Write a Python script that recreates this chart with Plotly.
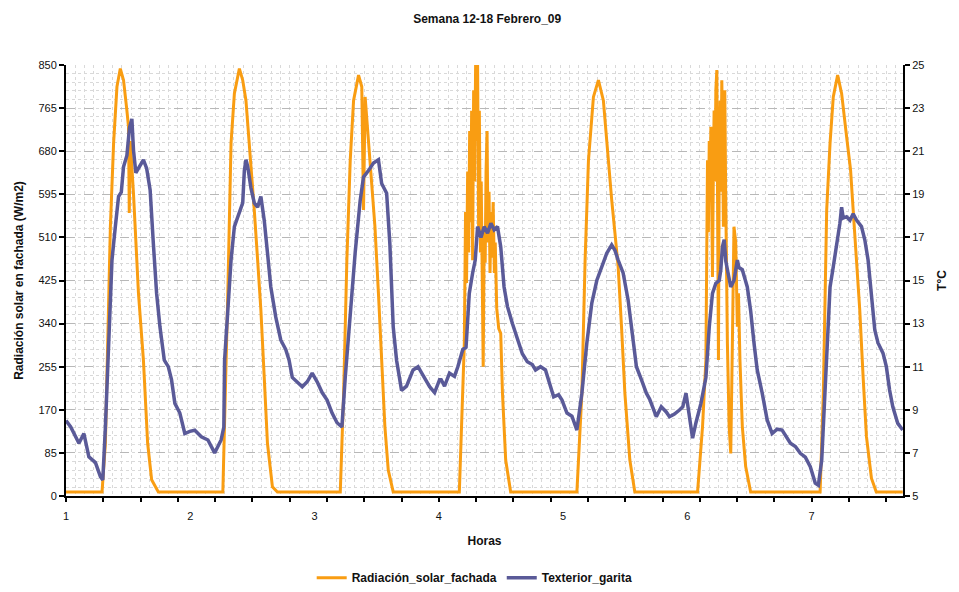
import plotly.graph_objects as go

# ---- data (x in days "Horas") ----
rad_x = [1.000, 1.290, 1.317, 1.338, 1.357, 1.383, 1.410, 1.437, 1.463, 1.490, 1.503, 1.509, 1.517, 1.543, 1.583, 1.623, 1.657, 1.689, 1.743,
         2.262, 2.276, 2.302, 2.328, 2.355, 2.395, 2.422, 2.448, 2.488, 2.515, 2.542, 2.568, 2.595, 2.621, 2.661, 2.701,
         3.207, 3.234, 3.260, 3.287, 3.314, 3.354, 3.380, 3.394, 3.407, 3.426, 3.460, 3.486, 3.514, 3.540, 3.566, 3.593, 3.633,
         4.165, 4.187, 4.205, 4.215, 4.223, 4.232, 4.240, 4.248, 4.256, 4.264, 4.272, 4.280, 4.288, 4.296, 4.304, 4.312, 4.320, 4.326,
         4.335, 4.341, 4.348, 4.357, 4.365, 4.373, 4.380, 4.388, 4.396, 4.404, 4.412, 4.420, 4.428, 4.437, 4.447, 4.454, 4.466, 4.482,
         4.498, 4.512, 4.538, 4.578,
         5.111, 5.151, 5.177, 5.204, 5.244, 5.284, 5.324, 5.351, 5.377, 5.391, 5.417, 5.443, 5.470, 5.497, 5.537, 5.577,
         6.082, 6.122, 6.149, 6.155, 6.162, 6.169, 6.176, 6.182, 6.189, 6.195, 6.202, 6.209, 6.215, 6.222, 6.229, 6.237, 6.243, 6.250,
         6.257, 6.264, 6.270, 6.277, 6.283, 6.290, 6.295, 6.301, 6.308, 6.314, 6.322, 6.336, 6.349, 6.362, 6.375, 6.389, 6.395, 6.402,
         6.411, 6.423, 6.442, 6.469, 6.509,
         7.068, 7.094, 7.108, 7.121, 7.148, 7.174, 7.209, 7.241, 7.281, 7.313, 7.334, 7.360, 7.387, 7.414, 7.441, 7.481, 7.520, 7.733]
rad_w = [8, 8, 104, 334, 531, 696, 807, 843, 820, 760, 728, 558, 700, 597, 400, 268, 104, 32, 8,
         8, 137, 400, 696, 794, 843, 820, 780, 660, 564, 465, 367, 235, 104, 18, 8,
         8, 203, 465, 662, 780, 830, 807, 564, 787, 728, 630, 531, 400, 268, 137, 51, 8,
         8, 150, 300, 560, 420, 640, 480, 720, 540, 760, 465, 800, 620, 850, 700, 850, 531, 760,
         480, 620, 380, 255, 520, 460, 640, 720, 500, 600, 440, 560, 470, 580, 440, 500, 370, 330,
         321, 203, 71, 8,
         8, 203, 465, 662, 787, 820, 780, 695, 630, 584, 519, 452, 334, 203, 71, 8,
         8, 137, 268, 560, 662, 520, 700, 580, 728, 600, 432, 640, 760, 620, 800, 840, 650, 268,
         700, 780, 600, 820, 700, 531, 700, 800, 600, 400, 301, 137, 84, 300, 531, 500, 420, 334,
         400, 268, 137, 58, 8,
         8, 203, 400, 564, 696, 787, 830, 794, 709, 643, 564, 465, 367, 235, 117, 35, 8, 8]

temp_x = [1.000, 1.038, 1.104, 1.144, 1.184, 1.237, 1.277, 1.296, 1.317, 1.338, 1.370, 1.397, 1.423, 1.445, 1.463, 1.490, 1.511, 1.530, 1.543, 1.562,
          1.583, 1.623, 1.649, 1.677, 1.703, 1.729, 1.756, 1.791, 1.823, 1.849, 1.876, 1.916, 1.956, 1.996, 2.036, 2.089, 2.142, 2.196, 2.222, 2.248,
          2.270, 2.276, 2.302, 2.328, 2.355, 2.395, 2.422, 2.435, 2.448, 2.462, 2.488, 2.515, 2.542, 2.568, 2.595, 2.621, 2.648, 2.688, 2.728, 2.768,
          2.795, 2.821, 2.861, 2.901, 2.941, 2.981, 3.021, 3.061, 3.101, 3.141, 3.181, 3.220, 3.247, 3.287, 3.327, 3.367, 3.394, 3.434, 3.474, 3.514,
          3.540, 3.580, 3.606, 3.633, 3.660, 3.700, 3.740, 3.793, 3.833, 3.873, 3.926, 3.966, 4.006, 4.019, 4.046, 4.086, 4.126, 4.153, 4.193, 4.219,
          4.245, 4.272, 4.293, 4.312, 4.339, 4.365, 4.392, 4.419, 4.445, 4.472, 4.498, 4.525, 4.552, 4.592, 4.632, 4.672, 4.712, 4.752, 4.778, 4.818,
          4.858, 4.898, 4.924, 4.964, 4.991, 5.031, 5.071, 5.111, 5.151, 5.191, 5.231, 5.271, 5.311, 5.351, 5.391, 5.417, 5.443, 5.483, 5.523, 5.550,
          5.590, 5.630, 5.670, 5.696, 5.723, 5.750, 5.790, 5.830, 5.856, 5.896, 5.936, 5.963, 5.989, 6.008, 6.029, 6.042, 6.069, 6.109, 6.149, 6.176,
          6.202, 6.229, 6.256, 6.269, 6.282, 6.296, 6.309, 6.336, 6.349, 6.375, 6.402, 6.415, 6.442, 6.482, 6.509, 6.536, 6.562, 6.602, 6.642, 6.682,
          6.722, 6.762, 6.789, 6.829, 6.869, 6.909, 6.949, 6.989, 7.029, 7.054, 7.081, 7.108, 7.134, 7.148, 7.174, 7.201, 7.227, 7.241, 7.254, 7.281,
          7.308, 7.334, 7.361, 7.401, 7.428, 7.454, 7.481, 7.508, 7.534, 7.574, 7.601, 7.627, 7.653, 7.693, 7.733]
temp_c = [8.5, 8.2, 7.45, 7.9, 6.82, 6.55, 5.9, 5.75, 8.2, 11.3, 15.95, 17.5, 18.9, 19.1, 20.28, 20.8, 22.1, 22.5, 21.05, 20.0,
          20.2, 20.6, 20.2, 19.2, 16.7, 14.4, 12.85, 11.3, 11.0, 10.4, 9.3, 8.85, 7.9, 8.0, 8.05, 7.75, 7.6, 7.0, 7.3, 7.6,
          8.2, 11.3, 13.6, 15.95, 17.5, 18.1, 18.6, 20.1, 20.6, 20.3, 19.3, 18.6, 18.4, 18.9, 17.8, 16.3, 14.7, 13.3, 12.24, 11.8,
          11.3, 10.5, 10.3, 10.07, 10.3, 10.7, 10.3, 9.8, 9.45, 8.85, 8.4, 8.2, 10.5, 13.6, 16.3, 18.7, 19.8, 20.1, 20.45, 20.6,
          19.5, 19.05, 16.7, 12.85, 11.3, 9.9, 10.1, 10.85, 11.0, 10.6, 10.07, 9.8, 10.4, 10.4, 10.1, 10.7, 10.55, 11.0, 11.8, 11.9,
          14.4, 15.35, 15.95, 17.5, 17.0, 17.5, 17.2, 17.65, 17.35, 17.5, 16.57, 14.7, 13.8, 13.0, 12.24, 11.6, 11.23, 11.1, 10.85, 11.0,
          10.85, 10.07, 9.6, 9.7, 9.45, 8.85, 8.7, 8.06, 9.77, 12.1, 13.95, 15.0, 15.64, 16.26, 16.65, 16.4, 15.95, 15.35, 14.1, 12.85,
          11.0, 10.4, 9.77, 9.5, 9.14, 8.68, 9.14, 8.9, 8.68, 8.8, 8.99, 9.14, 9.77, 9.1, 8.2, 7.68, 8.4, 9.3, 10.5, 12.85,
          14.4, 14.87, 15.0, 15.5, 16.57, 16.9, 15.9, 15.2, 14.7, 15.0, 15.95, 15.6, 15.5, 14.7, 13.6, 12.1, 10.85, 9.77, 8.53, 7.9,
          8.1, 8.06, 7.8, 7.45, 7.3, 6.98, 6.8, 6.36, 5.6, 5.5, 6.67, 9.77, 12.85, 14.7, 15.64, 16.57, 17.65, 18.4, 17.9, 17.96,
          17.8, 18.1, 17.8, 17.5, 16.88, 15.95, 14.4, 12.7, 12.1, 11.63, 11.0, 9.92, 9.14, 8.37, 8.06]

x_tick_vals = [1, 2, 3, 4, 5, 6, 7]
rad_ticks = [0, 85, 170, 255, 340, 425, 510, 595, 680, 765, 850]
temp_ticks = [5, 7, 9, 11, 13, 15, 17, 19, 21, 23, 25]

ORANGE = "#F99D12"
PURPLE = "#5A5A98"
FONT = "Liberation Sans, Arial, sans-serif"
XR = [1, 7.735]

fig = go.Figure()
fig.add_trace(go.Scatter(x=rad_x, y=rad_w, mode="lines", name="Radiación_solar_fachada",
                         line=dict(color=ORANGE, width=3), xaxis="x", yaxis="y"))
fig.add_trace(go.Scatter(x=temp_x, y=temp_c, mode="lines", name="Texterior_garita",
                         line=dict(color=PURPLE, width=3.5), xaxis="x", yaxis="y2"))
# carrier for the secondary x axis that draws the tick marks
fig.add_trace(go.Scatter(x=[None], y=[None], mode="lines", showlegend=False, hoverinfo="skip",
                         xaxis="x2", yaxis="y"))

fig.update_layout(
    width=959, height=592,
    margin=dict(l=66, r=49, t=65, b=96),
    paper_bgcolor="white", plot_bgcolor="white",
    font=dict(family=FONT, size=11, color="#111"),
    title=dict(text="<b>Semana 12-18 Febrero_09</b>", x=0.508, xanchor="center",
               y=0.968, yanchor="middle", font=dict(size=12, family=FONT, color="#111")),
    showlegend=True,
    legend=dict(orientation="h", xref="container", yref="container", x=0.495, xanchor="center",
                y=0.024, yanchor="middle", font=dict(size=12, family=FONT, color="#111", weight="bold"),
                itemwidth=30, tracegroupgap=0),
    xaxis=dict(range=XR, tickmode="array", tickvals=x_tick_vals, ticktext=[str(v) for v in x_tick_vals],
               ticks="", showgrid=False, zeroline=False, ticklabelstandoff=9,
               showline=True, linecolor="black", linewidth=2,
               tickfont=dict(size=11, family=FONT, color="#111"),
               title=dict(text="<b>Horas</b>", font=dict(size=12, family=FONT, color="#111"), standoff=15),
               minor=dict(tickmode="linear", tick0=1, dtick=0.075, showgrid=True, gridcolor="#D9D9D9",
                          griddash="dot", gridwidth=1, ticks="")),
    xaxis2=dict(range=XR, overlaying="x", anchor="y", side="bottom", matches="x",
                tickmode="linear", tick0=1, dtick=0.3, ticks="outside", ticklen=5, tickwidth=1.5,
                tickcolor="black", showticklabels=False, showgrid=False, zeroline=False, showline=False),
    yaxis=dict(range=[0, 850], tickmode="array", tickvals=rad_ticks, ticks="outside", ticklen=5, tickwidth=1.5,
               tickcolor="black", showline=True, linecolor="black", linewidth=2, zeroline=False,
               showgrid=True, gridcolor="#B8B8B8", griddash="dash", gridwidth=1,
               tickfont=dict(size=11, family=FONT, color="#111"),
               title=dict(text="<b>Radiación solar en fachada (W/m2)</b>",
                          font=dict(size=12, family=FONT, color="#111"), standoff=12),
               minor=dict(tickmode="linear", tick0=0, dtick=17, showgrid=True, gridcolor="#D9D9D9",
                          griddash="dot", gridwidth=1, ticks="")),
    yaxis2=dict(range=[5, 25], tickmode="array", tickvals=temp_ticks, overlaying="y", side="right", anchor="x",
                ticks="outside", ticklen=5, tickwidth=1.5, tickcolor="black",
                showline=True, linecolor="black", linewidth=2, zeroline=False, showgrid=False,
                tickfont=dict(size=11, family=FONT, color="#111"),
                title=dict(text="<b>T°C</b>", font=dict(size=12, family=FONT, color="#111"), standoff=14)),
)

fig.write_html("out.html")
